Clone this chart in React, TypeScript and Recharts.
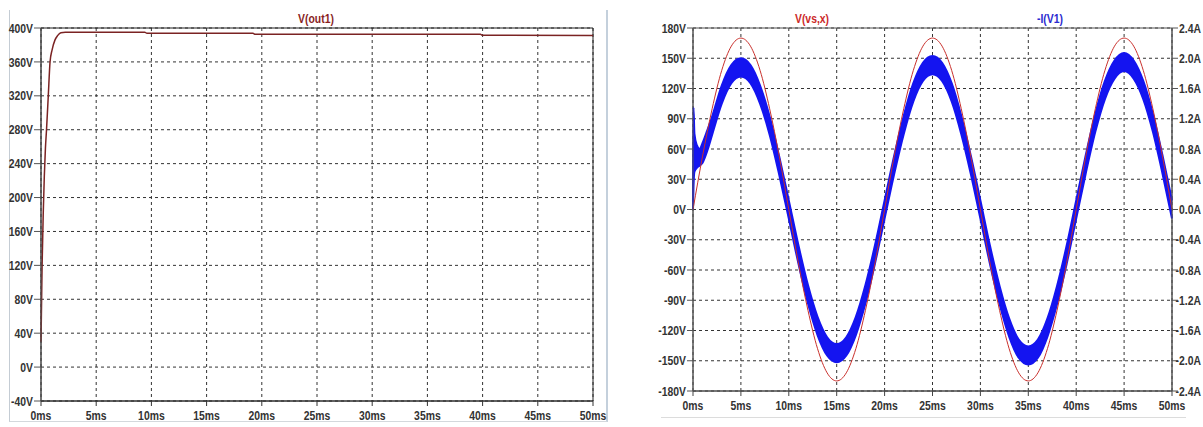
import {
  LineChart,
  ComposedChart,
  Line,
  Area,
  XAxis,
  YAxis,
  CartesianGrid,
  ReferenceArea,
} from "recharts";

// time axis shared by both plots (ms)
const MS_TICKS = [0, 5, 10, 15, 20, 25, 30, 35, 40, 45, 50];

// left plot: V(out1)
const OUT_TIME = [0, 0.1, 0.2, 0.3, 0.4, 0.5, 0.66, 0.82, 1.0, 1.27, 1.5, 1.8, 2.2, 9.4, 9.6, 19.2, 19.4, 39.8, 40.0, 50];
const OUT_VOLTS = [30, 120, 180, 225, 258, 280, 320, 360, 374, 386, 391, 394.5, 395, 395, 393.8, 393.8, 392.6, 392.6, 391.4, 391.3];
const OUT_TICKS = [-40, 0, 40, 80, 120, 160, 200, 240, 280, 320, 360, 400];

// right plot: V(vs,x) in volts, sampled each ms
const VS_TIME = [
  0, 1, 2, 3, 4, 5, 6, 7, 8, 9, 10, 11, 12, 13, 14, 15, 16, 17, 18, 19, 20, 21, 22, 23, 24, 25,
  26, 27, 28, 29, 30, 31, 32, 33, 34, 35, 36, 37, 38, 39, 40, 41, 42, 43, 44, 45, 46, 47, 48, 49, 50,
];
const VS_VOLTS = [
  0, 53, 100, 138, 162, 170, 162, 138, 100, 53, 0, -53, -100, -138, -162, -170, -162, -138, -100, -53,
  0, 53, 100, 138, 162, 170, 162, 138, 100, 53, 0, -53, -100, -138, -162, -170, -162, -138, -100, -53,
  0, 53, 100, 138, 162, 170, 162, 138, 100, 53, 0,
];

// right plot: -I(V1) envelope (low / high of the ripple band) in amps
const I_TIME = [
  0, 0.05, 0.15, 0.4, 0.7, 1, 1.5, 2, 3, 4, 5, 6, 7, 8, 9, 10, 11, 12, 13, 14, 15, 16, 17, 18, 19, 20,
  21, 22, 23, 24, 25, 26, 27, 28, 29, 30, 31, 32, 33, 34, 35, 36, 37, 38, 39, 40, 41, 42, 43, 44, 45,
  46, 47, 48, 49, 50,
];
const I_LOW = [
  0, 0.3, 0.5, 0.55, 0.58, 0.62, 0.78, 0.99, 1.4, 1.67, 1.76, 1.67, 1.4, 0.99, 0.46, -0.12, -0.71,
  -1.24, -1.66, -1.93, -2.02, -1.93, -1.66, -1.24, -0.71, -0.12, 0.47, 1.0, 1.43, 1.7, 1.79, 1.7, 1.43,
  1.0, 0.47, -0.12, -0.72, -1.25, -1.68, -1.96, -2.05, -1.96, -1.68, -1.25, -0.72, -0.12, 0.48, 1.03,
  1.46, 1.73, 1.83, 1.73, 1.46, 1.03, 0.48, -0.12,
];
const I_HIGH = [
  0.1, 1.35, 1.0, 0.85, 0.8, 0.88, 1.05, 1.23, 1.64, 1.91, 2.0, 1.91, 1.64, 1.23, 0.7, 0.12, -0.47,
  -1.0, -1.42, -1.69, -1.78, -1.69, -1.42, -1.0, -0.47, 0.12, 0.71, 1.24, 1.67, 1.94, 2.03, 1.94, 1.67,
  1.24, 0.71, 0.12, -0.48, -1.01, -1.44, -1.72, -1.81, -1.72, -1.44, -1.01, -0.48, 0.12, 0.72, 1.27,
  1.7, 1.97, 2.07, 1.97, 1.7, 1.27, 0.72, 0.12,
];
const VS_TICKS = [-180, -150, -120, -90, -60, -30, 0, 30, 60, 90, 120, 150, 180];
const I_TICKS = [-2.4, -2.0, -1.6, -1.2, -0.8, -0.4, 0, 0.4, 0.8, 1.2, 1.6, 2.0, 2.4];

const outData = OUT_TIME.map((t, i) => ({ t, v: OUT_VOLTS[i] }));
const rightData = I_TIME.map((t, i) => {
  const k = VS_TIME.indexOf(t);
  return { t, v: k >= 0 ? VS_VOLTS[k] : null, band: [I_LOW[i], I_HIGH[i]] };
});

const FONT = "'Liberation Sans', Arial, sans-serif";
const SQUEEZE = 0.8; // narrow look of the LTspice labels

// tick text squeezed horizontally around its anchor point
function makeTick(fmt: (v: number) => string, dy: string, shift = 0, anchor?: string) {
  return (props: any) => {
    const { y, payload, textAnchor } = props;
    const x = props.x + shift;
    return (
      <text
        x={x}
        y={y}
        dy={dy}
        textAnchor={anchor ?? textAnchor}
        fill="#333"
        fontSize={13}
        fontFamily={FONT}
        fontWeight="bold"
        transform={`translate(${x} 0) scale(${SQUEEZE} 1) translate(${-x} 0)`}
      >
        {fmt(payload.value)}
      </text>
    );
  };
}

const msTick = makeTick((v) => `${v}ms`, "0.71em");
const voltTick = makeTick((v) => `${v}V`, "0.36em");
// amp labels sit right-aligned against the picture edge
const ampTick = makeTick((v) => `${Number(v).toFixed(1)}A`, "0.36em", 21, "end");

const titleStyle = {
  position: "absolute" as const,
  top: 11,
  fontFamily: FONT,
  fontSize: 13,
  fontWeight: "bold" as const,
  lineHeight: "15px",
  transform: `translateX(-50%) scaleX(${SQUEEZE})`,
  whiteSpace: "nowrap" as const,
};

export default function App() {
  return (
    <div style={{ position: "absolute", left: 0, top: 0, width: 1203, height: 427, background: "#fff" }}>
      {/* left panel frame */}
      <div
        style={{
          position: "absolute",
          left: 9,
          top: 10,
          width: 596,
          height: 411,
          borderLeft: "1px solid #c4ccd4",
          borderRight: "2px solid #c4d0dc",
          borderBottom: "1px solid #d4d8dc",
        }}
      />
      <div style={{ position: "absolute", left: 661, top: 417, width: 525, height: 1, background: "#dcdcdc" }} />

      <div style={{ position: "absolute", left: 0, top: 0 }}>
        <LineChart width={620} height={427} data={outData} margin={{ top: 28, right: 27, bottom: 6, left: 6 }}>
          <CartesianGrid stroke="#333" strokeDasharray="3 3" />
          <XAxis
            dataKey="t"
            type="number"
            domain={[0, 50]}
            ticks={MS_TICKS}
            tick={msTick}
            tickSize={5}
            tickMargin={5}
            height={20}
            stroke="#333"
            interval={0}
          />
          <YAxis
            type="number"
            domain={[-40, 400]}
            ticks={OUT_TICKS}
            tick={voltTick}
            tickSize={7}
            tickMargin={1}
            width={35}
            stroke="#555"
            interval={0}
          />
          <ReferenceArea x1={0} x2={50} y1={-40} y2={400} fill="none" stroke="#222" strokeWidth={1} />
          <Line
            dataKey="v"
            type="monotone"
            stroke="#7b2323"
            strokeWidth={1.5}
            dot={false}
            isAnimationActive={false}
          />
        </LineChart>
      </div>

      <div style={{ position: "absolute", left: 620, top: 0 }}>
        <ComposedChart width={583} height={427} data={rightData} margin={{ top: 28, right: 3, bottom: 16, left: 33 }}>
          <CartesianGrid yAxisId="v" stroke="#333" strokeDasharray="3 3" />
          <XAxis
            dataKey="t"
            type="number"
            domain={[0, 50]}
            ticks={MS_TICKS}
            tick={msTick}
            tickSize={5}
            tickMargin={5}
            height={20}
            stroke="#444"
            interval={0}
          />
          <YAxis
            yAxisId="v"
            type="number"
            domain={[-180, 180]}
            ticks={VS_TICKS}
            tick={voltTick}
            tickSize={6}
            tickMargin={1}
            width={40}
            stroke="#555"
            interval={0}
          />
          <YAxis
            yAxisId="a"
            orientation="right"
            type="number"
            domain={[-2.4, 2.4]}
            ticks={I_TICKS}
            tick={ampTick}
            tickSize={6}
            tickMargin={2}
            width={28}
            stroke="#555"
            interval={0}
          />
          <ReferenceArea yAxisId="v" x1={0} x2={50} y1={-180} y2={180} fill="none" stroke="#555" strokeWidth={1} />
          <Line
            yAxisId="v"
            dataKey="v"
            type="monotone"
            stroke="#c9302c"
            strokeWidth={1}
            dot={false}
            connectNulls
            isAnimationActive={false}
          />
          <Area
            yAxisId="a"
            dataKey="band"
            type="monotone"
            stroke="#1414f0"
            strokeWidth={2}
            fill="#1414f0"
            fillOpacity={1}
            dot={false}
            activeDot={false}
            isAnimationActive={false}
          />
        </ComposedChart>
      </div>

      <div style={{ ...titleStyle, left: 316, color: "#8a1f1f" }}>V(out1)</div>
      <div style={{ ...titleStyle, left: 812, color: "#cc2a2a" }}>V(vs,x)</div>
      <div style={{ ...titleStyle, left: 1050, color: "#2b2bd0" }}>-I(V1)</div>
    </div>
  );
}
